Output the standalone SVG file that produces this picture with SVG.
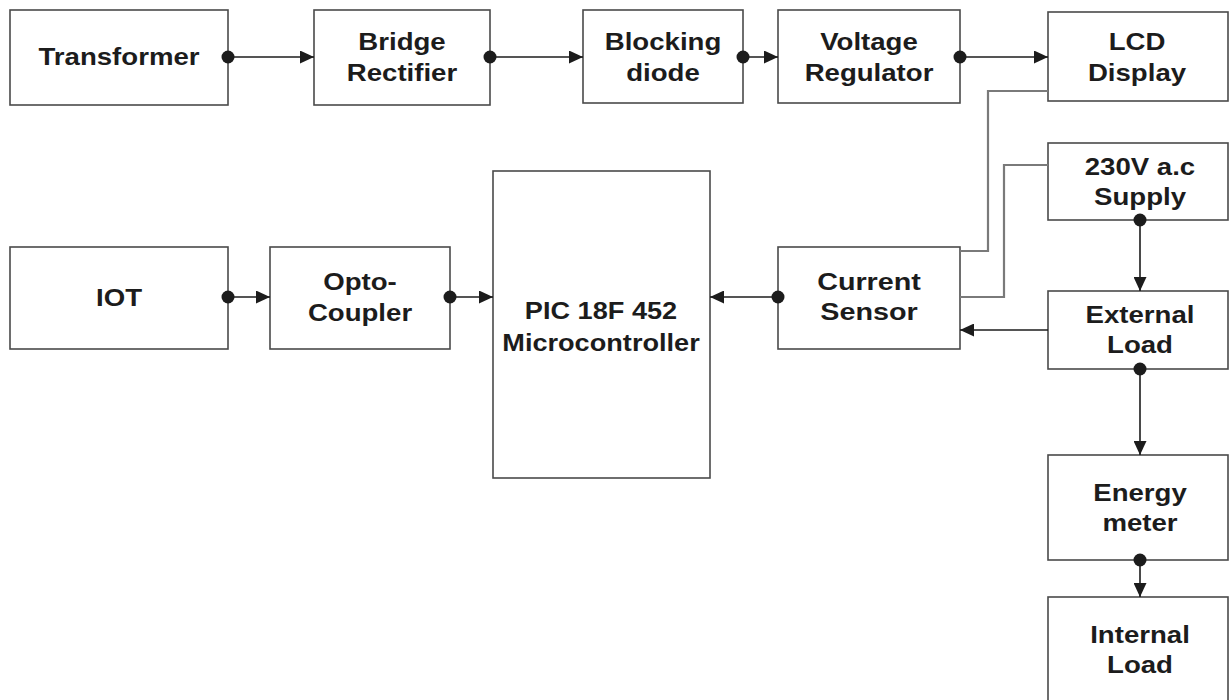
<svg xmlns="http://www.w3.org/2000/svg" width="1230" height="700" viewBox="0 0 1230 700">
<style>
.box{fill:#fff;stroke:#4a4a4a;stroke-width:1.6}
.t{font-family:"Liberation Sans",Arial,sans-serif;font-weight:bold;font-size:23px;fill:#1c1c1c;text-anchor:middle}
.c{fill:none;stroke:#1c1c1c;stroke-width:1.6}
.g{fill:none;stroke:#7a7a7a;stroke-width:2.2}
.dot{fill:#1c1c1c}
</style>
<defs>
<marker id="ah" viewBox="0 0 14 13" refX="14" refY="6.5" markerWidth="14" markerHeight="13" markerUnits="userSpaceOnUse" orient="auto">
<path d="M0,0 L14,6.5 L0,13 Z" fill="#1c1c1c"/>
</marker>
</defs>
<rect width="1230" height="700" fill="#fff"/>
<g id="transformer"><rect class="box" x="10" y="10" width="218" height="95"/><text class="t" transform="matrix(1.2 0 0 1 119 0)" y="65">Transformer</text></g>
<g id="bridge-rectifier"><rect class="box" x="314" y="10" width="176" height="95"/><text class="t" transform="matrix(1.2 0 0 1 402 0)" y="50">Bridge</text><text class="t" transform="matrix(1.2 0 0 1 402 0)" y="81">Rectifier</text></g>
<g id="blocking-diode"><rect class="box" x="583" y="10" width="160" height="93"/><text class="t" transform="matrix(1.2 0 0 1 663 0)" y="50">Blocking</text><text class="t" transform="matrix(1.2 0 0 1 663 0)" y="81">diode</text></g>
<g id="voltage-regulator"><rect class="box" x="778" y="10" width="182" height="93"/><text class="t" transform="matrix(1.2 0 0 1 869 0)" y="50">Voltage</text><text class="t" transform="matrix(1.2 0 0 1 869 0)" y="81">Regulator</text></g>
<g id="lcd-display"><rect class="box" x="1048" y="12" width="180" height="89"/><text class="t" transform="matrix(1.2 0 0 1 1137 0)" y="50">LCD</text><text class="t" transform="matrix(1.2 0 0 1 1137 0)" y="81">Display</text></g>
<g id="supply"><rect class="box" x="1048" y="143" width="180" height="77"/><text class="t" transform="matrix(1.2 0 0 1 1140 0)" y="175">230V a.c</text><text class="t" transform="matrix(1.2 0 0 1 1140 0)" y="205">Supply</text></g>
<g id="iot"><rect class="box" x="10" y="247" width="218" height="102"/><text class="t" transform="matrix(1.2 0 0 1 119 0)" y="306">IOT</text></g>
<g id="opto-coupler"><rect class="box" x="270" y="247" width="180" height="102"/><text class="t" transform="matrix(1.2 0 0 1 360 0)" y="290">Opto-</text><text class="t" transform="matrix(1.2 0 0 1 360 0)" y="321">Coupler</text></g>
<g id="pic"><rect class="box" x="493" y="171" width="217" height="307"/><text class="t" transform="matrix(1.18 0 0 1 601 0)" y="319">PIC 18F 452</text><text class="t" transform="matrix(1.18 0 0 1 601 0)" y="351">Microcontroller</text></g>
<g id="current-sensor"><rect class="box" x="778" y="247" width="182" height="102"/><text class="t" transform="matrix(1.25 0 0 1 869 0)" y="290">Current</text><text class="t" transform="matrix(1.25 0 0 1 869 0)" y="320">Sensor</text></g>
<g id="external-load"><rect class="box" x="1048" y="291" width="180" height="78"/><text class="t" transform="matrix(1.2 0 0 1 1140 0)" y="323">External</text><text class="t" transform="matrix(1.2 0 0 1 1140 0)" y="353">Load</text></g>
<g id="energy-meter"><rect class="box" x="1048" y="455" width="180" height="105"/><text class="t" transform="matrix(1.2 0 0 1 1140 0)" y="501">Energy</text><text class="t" transform="matrix(1.2 0 0 1 1140 0)" y="531">meter</text></g>
<g id="internal-load"><rect class="box" x="1048" y="597" width="180" height="110"/><text class="t" transform="matrix(1.2 0 0 1 1140 0)" y="643">Internal</text><text class="t" transform="matrix(1.2 0 0 1 1140 0)" y="673">Load</text></g>
<g id="connectors">
<path class="g" d="M1048,91 H988 V251 H960"/>
<path class="g" d="M1048,165 H1004 V297 H960"/>
<path class="c" d="M228,57 H314" marker-end="url(#ah)"/>
<path class="c" d="M490,57 H583" marker-end="url(#ah)"/>
<path class="c" d="M743,57 H778" marker-end="url(#ah)"/>
<path class="c" d="M960,57 H1048" marker-end="url(#ah)"/>
<path class="c" d="M228,297 H270" marker-end="url(#ah)"/>
<path class="c" d="M450,297 H493" marker-end="url(#ah)"/>
<path class="c" d="M778,297 H710" marker-end="url(#ah)"/>
<path class="c" d="M1140,220 V291" marker-end="url(#ah)"/>
<path class="c" d="M1048,330 H960" marker-end="url(#ah)"/>
<path class="c" d="M1140,369 V455" marker-end="url(#ah)"/>
<path class="c" d="M1140,560 V597" marker-end="url(#ah)"/>
<circle class="dot" cx="228" cy="57" r="6.5"/>
<circle class="dot" cx="490" cy="57" r="6.5"/>
<circle class="dot" cx="743" cy="57" r="6.5"/>
<circle class="dot" cx="960" cy="57" r="6.5"/>
<circle class="dot" cx="228" cy="297" r="6.5"/>
<circle class="dot" cx="450" cy="297" r="6.5"/>
<circle class="dot" cx="778" cy="297" r="6.5"/>
<circle class="dot" cx="1140" cy="220" r="6.5"/>
<circle class="dot" cx="1140" cy="369" r="6.5"/>
<circle class="dot" cx="1140" cy="560" r="6.5"/>
</g>
</svg>
